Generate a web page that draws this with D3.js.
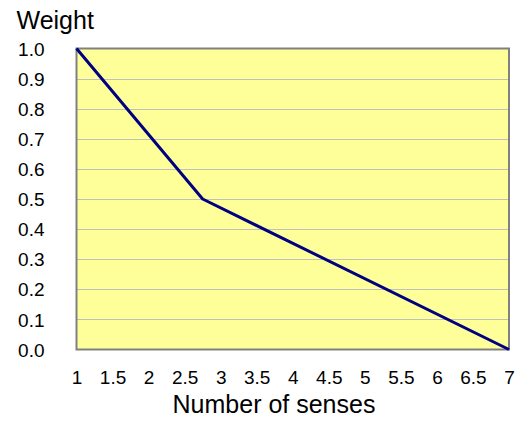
<!DOCTYPE html>
<html><head><meta charset="utf-8">
<script src="https://cdn.jsdelivr.net/npm/d3@7"></script>
<style>body{margin:0;background:#fff}svg{display:block}text{font-family:"Liberation Sans",Arial,sans-serif;fill:#000}</style>
</head><body>
<svg id="c" width="518" height="421"></svg>
<script>
const xValues = [1, 2.75, 7];
const yValues = [1.0, 0.5, 0.0];
const xTicks = [1, 1.5, 2, 2.5, 3, 3.5, 4, 4.5, 5, 5.5, 6, 6.5, 7];
const yTicks = [0, 0.1, 0.2, 0.3, 0.4, 0.5, 0.6, 0.7, 0.8, 0.9, 1.0];
const xTitle = "Number of senses";
const yTitle = "Weight";

const svg = d3.select("#c");
const x = d3.scaleLinear().domain([1, 7]).range([76.5, 509]);
const y = d3.scaleLinear().domain([0, 1]).range([349.5, 48.5]);

svg.append("rect").attr("x", x(1)).attr("y", y(1)).attr("width", x(7) - x(1)).attr("height", y(0) - y(1)).attr("fill", "#ffff99");

svg.append("g").selectAll("line").data(yTicks.filter(d => d > 0 && d < 1)).join("line")
  .attr("x1", x(1)).attr("x2", x(7)).attr("y1", d => Math.round(y(d)) + 0.5).attr("y2", d => Math.round(y(d)) + 0.5)
  .attr("stroke", "#c0c0c0").attr("stroke-width", 1);

svg.append("rect").attr("x", x(1)).attr("y", y(1)).attr("width", x(7) - x(1)).attr("height", y(0) - y(1))
  .attr("fill", "none").attr("stroke", "#808080").attr("stroke-width", 2);

const pts = xValues.map((v, i) => [v, yValues[i]]);
svg.append("path").datum(pts)
  .attr("d", d3.line().x(d => x(d[0])).y(d => y(d[1])))
  .attr("fill", "none").attr("stroke", "#000080").attr("stroke-width", 3).attr("stroke-linejoin", "round");

const yAxis = d3.axisLeft(y).tickValues(yTicks).tickFormat(d3.format(".1f")).tickSize(0).tickPadding(32);
const gy = svg.append("g").attr("transform", `translate(${x(1)},0)`).call(yAxis);
gy.select(".domain").remove();
gy.selectAll("text").attr("font-size", 19).attr("font-family", "Liberation Sans, Arial, sans-serif").attr("dy", "0.35em").attr("fill", "#000");

const xAxis = d3.axisBottom(x).tickValues(xTicks).tickFormat(d => String(d)).tickSize(0).tickPadding(21);
const gx = svg.append("g").attr("transform", `translate(0,${y(0)})`).call(xAxis);
gx.select(".domain").remove();
gx.selectAll("text").attr("font-size", 19).attr("font-family", "Liberation Sans, Arial, sans-serif").attr("fill", "#000");

svg.append("text").attr("x", 16.5).attr("y", 29).attr("font-size", 25).text(yTitle);
svg.append("text").attr("x", 274).attr("y", 413).attr("text-anchor", "middle").attr("font-size", 25).text(xTitle);
</script>
</body></html>
